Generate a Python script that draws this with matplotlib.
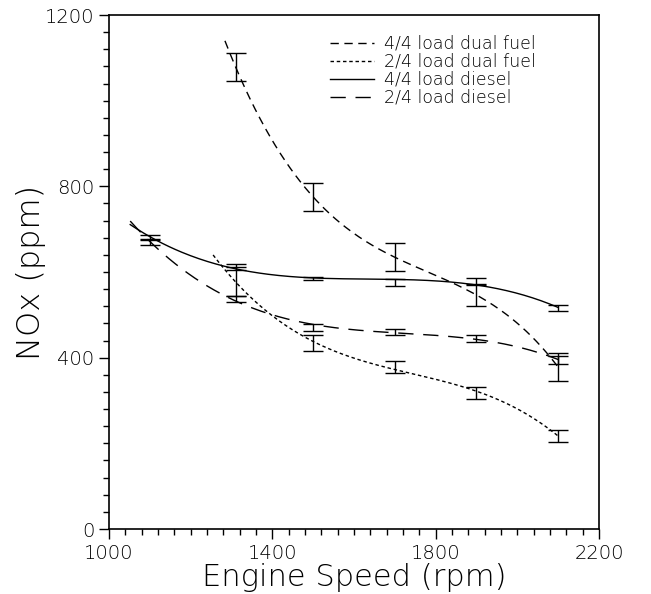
import numpy as np
import matplotlib.pyplot as plt
from matplotlib.ticker import MultipleLocator

# data (rpm, NOx ppm)
speed_df44 = [1310, 1500, 1700, 1900, 2100]
nox_df44 = [1079, 775, 635, 546, 378]
err_df44 = [32, 33, 33, 26, 32]
start_df44 = 1284

speed_df24 = [1310, 1500, 1700, 1900, 2100]
nox_df24 = [578, 434, 378, 318, 218]
err_df24 = [34, 18, 14, 14, 14]
start_df24 = 1255

speed_d44 = [1100, 1310, 1500, 1700, 1900, 2100]
nox_d44 = [681, 612, 585, 576, 577, 515]
err_d44 = [6, 7, 3, 8, 8, 7]
start_d44 = 1052

speed_d24 = [1100, 1310, 1500, 1700, 1900, 2100]
nox_d24 = [670, 538, 471, 460, 444, 395]
err_d24 = [6, 7, 8, 8, 8, 9]
start_d24 = 1052

labels = ['4/4 load dual fuel', '2/4 load dual fuel', '4/4 load diesel', '2/4 load diesel']

plt.rcParams['font.family'] = 'DejaVu Sans'
plt.rcParams['font.weight'] = 'light'
plt.rcParams['axes.labelweight'] = 'light'
fig = plt.figure(figsize=(6.51, 5.94), dpi=100)
ax = fig.add_axes([0.1674, 0.1094, 0.7527, 0.8653])

series = [
    (speed_df44, nox_df44, err_df44, start_df44, (0, (6, 4))),
    (speed_df24, nox_df24, err_df24, start_df24, (0, (2.5, 2))),
    (speed_d44, nox_d44, err_d44, start_d44, '-'),
    (speed_d24, nox_d24, err_d24, start_d24, (0, (11, 7))),
]

for (sx, sy, se, x0, ls), lab in zip(series, labels):
    # smooth fitted curve through the measured means
    coef = np.polyfit(sx, sy, 3)
    xs = np.linspace(x0, sx[-1], 200)
    ax.plot(xs, np.polyval(coef, xs), color='black', lw=1.0, ls=ls, label=lab)
    ax.errorbar(sx, sy, yerr=se, fmt='none', ecolor='black', elinewidth=1.0,
                capsize=7.5, capthick=1.0)

ax.set_xlim(1000, 2200)
ax.set_ylim(0, 1200)
ax.set_xticks([1000, 1400, 1800, 2200])
ax.set_yticks([0, 400, 800, 1200])
ax.xaxis.set_minor_locator(MultipleLocator(40))
ax.yaxis.set_minor_locator(MultipleLocator(40))
ax.tick_params(which='major', direction='out', length=7, width=1.0, labelsize=14,
               top=False, right=False)
ax.tick_params(which='minor', direction='out', length=4, width=1.0, top=False, right=False)
for sp in ax.spines.values():
    sp.set_linewidth(1.2)

ax.set_xlabel('Engine Speed (rpm)', fontsize=22, labelpad=0)
ax.set_ylabel('NOx (ppm)', fontsize=23, labelpad=-1)

ax.legend(loc='upper left', bbox_to_anchor=(0.42, 0.992), frameon=False, fontsize=12.5,
          handlelength=2.5, handletextpad=0.6, labelspacing=0.0)

fig.savefig('out.png', dpi=100)
